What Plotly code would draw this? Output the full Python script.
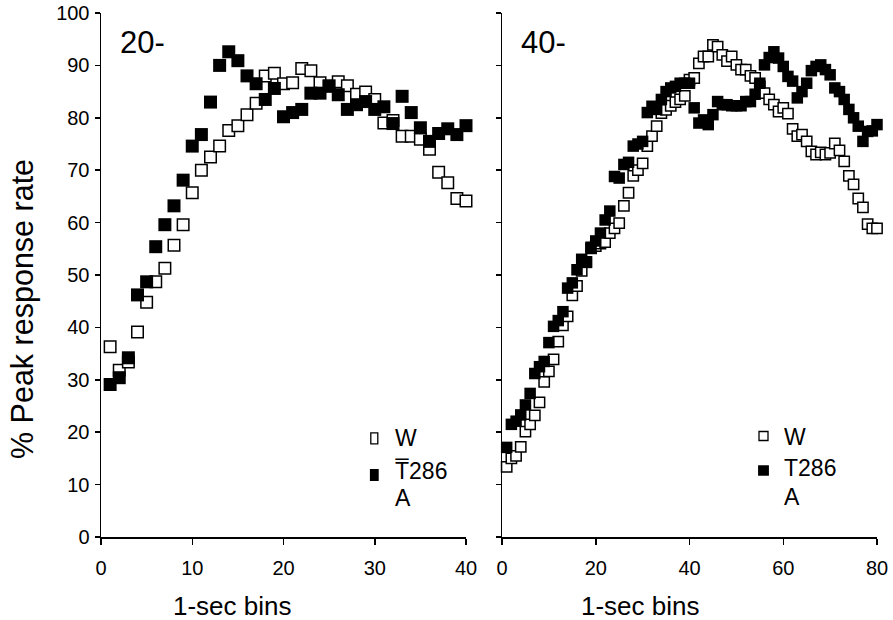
import plotly.graph_objects as go

# ---------------- data ----------------
bins20 = list(range(1, 41))
wt20 = [36.3, 31.8, 33.4, 39.1, 44.8, 48.7, 51.3, 55.7, 59.6, 65.7,
        70.0, 72.5, 74.6, 77.6, 78.5, 80.6, 82.8, 88.0, 88.5, 86.5,
        86.7, 89.4, 89.0, 86.7, 86.0, 86.9, 86.1, 84.5, 84.9, 83.5,
        79.0, 79.5, 76.5, 76.5, 75.9, 74.0, 69.6, 67.6, 64.6, 64.1]
mut20 = [29.1, 30.4, 34.2, 46.2, 48.7, 55.4, 59.6, 63.2, 68.1, 74.6,
         76.8, 83.0, 90.0, 92.6, 90.9, 88.0, 86.5, 83.5, 85.6, 80.2,
         81.0, 81.6, 84.7, 84.7, 86.1, 84.4, 81.6, 82.5, 83.1, 81.6,
         82.1, 78.9, 84.1, 81.0, 78.1, 75.5, 77.0, 77.9, 76.8, 78.5]

bins40 = list(range(1, 81))
wt40 = [13.4, 15.0, 15.5, 17.2, 20.1, 21.5, 23.2, 25.7, 29.6, 31.6,
        33.9, 37.3, 40.4, 42.1, 46.1, 47.9, 50.8, 52.5, 55.1, 55.5,
        56.0, 56.3, 58.0, 58.9, 59.9, 63.2, 65.7, 68.9, 70.0, 71.3,
        74.6, 76.5, 78.4, 80.9, 81.5, 82.3, 83.0, 83.5, 84.2, 87.3,
        87.6, 90.4, 91.7, 91.7, 93.9, 93.6, 92.0, 90.8, 91.7, 90.1,
        89.2, 89.2, 88.0, 87.6, 86.0, 84.7, 83.5, 82.5, 81.2, 81.9,
        80.8, 77.9, 76.5, 76.8, 75.5, 73.6, 73.0, 73.4, 73.0, 73.3,
        75.1, 73.8, 71.7, 68.9, 67.3, 64.6, 62.9, 59.7, 58.9, 58.9]
mut40 = [17.1, 21.5, 22.1, 23.3, 25.2, 27.4, 31.2, 32.5, 33.5, 37.1,
         40.2, 41.3, 43.0, 47.5, 48.5, 51.0, 53.0, 52.4, 55.3, 56.5,
         58.0, 60.5, 62.2, 68.8, 68.5, 71.1, 71.5, 74.6, 75.0, 75.5,
         81.0, 82.2, 81.6, 83.5, 85.0, 85.7, 86.0, 86.6, 86.6, 86.6,
         81.9, 79.0, 79.6, 78.7, 80.6, 83.1, 82.5, 82.5, 82.3, 82.3,
         82.3, 83.1, 83.1, 84.5, 86.6, 90.1, 91.5, 92.6, 91.4, 89.8,
         87.9, 87.0, 83.8, 85.0, 86.6, 89.0, 89.8, 90.1, 89.2, 88.2,
         85.7, 85.0, 83.5, 81.6, 80.0, 78.4, 75.5, 77.4, 77.5, 78.7]

yticks = [0, 10, 20, 30, 40, 50, 60, 70, 80, 90, 100]
xticks20 = [0, 10, 20, 30, 40]
xticks40 = [0, 20, 40, 60, 80]
panel_labels = ["20-", "40-"]
legend_names = ["W", "T\u0305286", "A"]
legend_names_r = ["W", "T286", "A"]

# ---------------- layout helpers ----------------
W, H = 893, 620
FONT = "Liberation Sans, Arial, Helvetica, sans-serif"


def px(x):
    return x / W


def py(y):
    return 1 - y / H


fig = go.Figure()

open_l = dict(symbol="square", size=11.5, color="white", line=dict(color="black", width=1.5))
fill_l = dict(symbol="square", size=13, color="black", line=dict(width=0))
open_r = dict(symbol="square", size=10.3, color="white", line=dict(color="black", width=1.5))
fill_r = dict(symbol="square", size=11.5, color="black", line=dict(width=0))

fig.add_trace(go.Scatter(x=bins20, y=wt20, mode="markers", marker=open_l,
                         xaxis="x", yaxis="y", showlegend=False, cliponaxis=False))
fig.add_trace(go.Scatter(x=bins20, y=mut20, mode="markers", marker=fill_l,
                         xaxis="x", yaxis="y", showlegend=False, cliponaxis=False))
fig.add_trace(go.Scatter(x=bins40, y=wt40, mode="markers", marker=open_r,
                         xaxis="x2", yaxis="y2", showlegend=False, cliponaxis=False))
fig.add_trace(go.Scatter(x=bins40, y=mut40, mode="markers", marker=fill_r,
                         xaxis="x2", yaxis="y2", showlegend=False, cliponaxis=False))

axis_common = dict(showgrid=False, zeroline=False, showline=True, linecolor="black",
                   linewidth=1.5, ticks="outside", tickcolor="black", tickwidth=1.5,
                   automargin=False,
                   tickfont=dict(family=FONT, size=20, color="black"))

ydom = [py(537), py(13)]
fig.update_layout(
    template="none",
    width=W, height=H,
    margin=dict(l=0, r=0, t=0, b=0, pad=0),
    paper_bgcolor="white", plot_bgcolor="white",
    showlegend=False,
    font=dict(family=FONT, color="black"),
    xaxis=dict(domain=[px(101), px(466)], range=[0, 40], tickvals=xticks20,
               ticklen=6, anchor="y", ticklabelstandoff=6, **axis_common),
    yaxis=dict(domain=ydom, range=[0, 100], tickvals=yticks, ticklen=5,
               anchor="x", ticklabelstandoff=1, **axis_common),
    xaxis2=dict(domain=[px(502), px(877)], range=[0, 80], tickvals=xticks40,
                ticklen=6, anchor="y2", ticklabelstandoff=6, **axis_common),
    yaxis2=dict(domain=ydom, range=[0, 100], tickvals=yticks, ticklen=5,
                anchor="x2", showticklabels=False, **axis_common),
)

ann = []
def text(x, y, s, size, xanchor="left", angle=0):
    ann.append(dict(x=px(x), y=py(y), xref="paper", yref="paper", text=s,
                    showarrow=False, xanchor=xanchor, yanchor="middle", textangle=angle,
                    borderpad=0, font=dict(family=FONT, size=size, color="black")))

text(119, 42, panel_labels[0], 31)
text(520, 42, panel_labels[1], 31)
text(232, 606, "1-sec bins", 26, xanchor="center")
text(640, 606, "1-sec bins", 26, xanchor="center")
text(22, 309, "% Peak response rate", 30.5, xanchor="center", angle=-90)

# legends
text(394, 438, legend_names[0], 23)
text(394, 471, legend_names[1], 23)
text(394, 498, legend_names[2], 23)
text(783, 437, legend_names_r[0], 23)
text(783, 468, legend_names_r[1], 23)
text(783, 497, legend_names_r[2], 23)
fig.update_layout(annotations=ann)

shapes = []
def rect(cx, cy, w, h, filled):
    shapes.append(dict(type="rect", xref="paper", yref="paper",
                       x0=px(cx - w / 2), x1=px(cx + w / 2),
                       y0=py(cy + h / 2), y1=py(cy - h / 2),
                       line=dict(color="black", width=1.3),
                       fillcolor="black" if filled else "white"))

rect(374.3, 438.3, 7, 11, False)
rect(374.3, 475, 7.5, 10.5, True)
rect(763.5, 436, 9, 9, False)
rect(763.5, 470.5, 9.5, 9, True)
fig.update_layout(shapes=shapes)

fig.write_html("out.html",
               config={"displayModeBar": False, "staticPlot": True},
               post_script="document.body.style.margin='0px';"
                           "document.body.style.overflow='hidden';")
